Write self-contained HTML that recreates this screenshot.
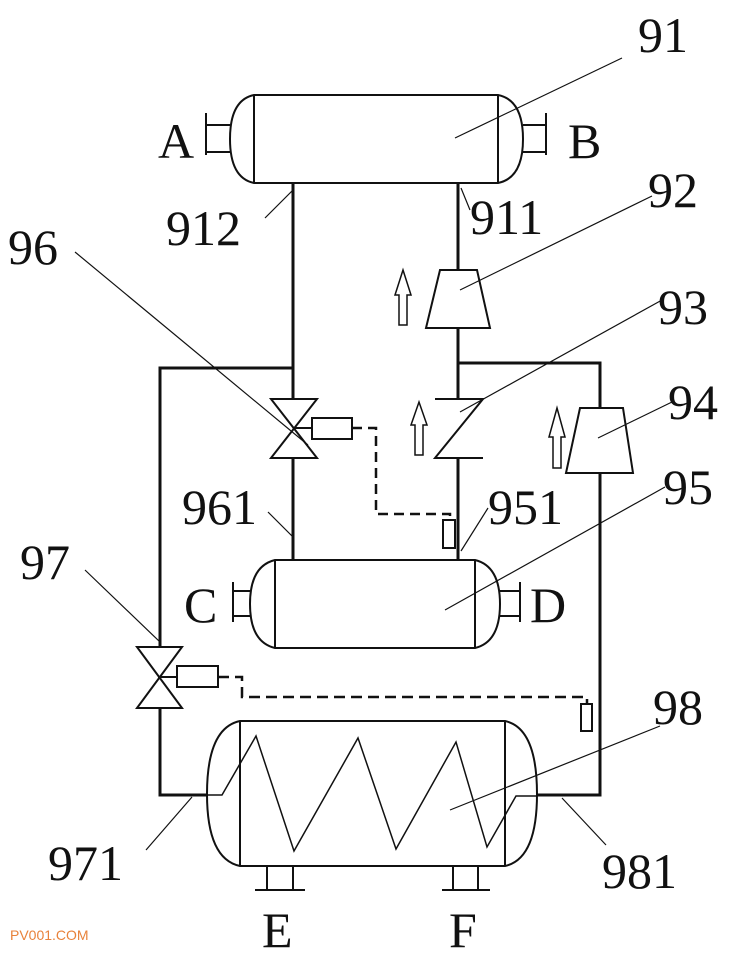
<!DOCTYPE html>
<html><head><meta charset="utf-8"><style>html,body{margin:0;padding:0;background:#fff}svg{display:block}</style></head>
<body>
<svg width="750" height="960" viewBox="0 0 750 960" xmlns="http://www.w3.org/2000/svg">
<g fill="none" stroke="#111">
<path d="M254,95 L498,95 Q523,100 523,139 Q523,178 498,183 L254,183 Q230,178 230,139 Q230,100 254,95 Z" stroke-width="2"/>
<line x1="254" y1="95" x2="254" y2="183" stroke-width="2"/>
<line x1="498" y1="95" x2="498" y2="183" stroke-width="2"/>
<path d="M230,125 H206 M206,113 V155 M206,152 H230" stroke-width="2"/>
<path d="M523,125 H546 M546,113 V155 M546,152 H523" stroke-width="2"/>
<g stroke-width="3">
<path d="M293,183 V399 M293,458 V560"/>
<path d="M458,183 V270 M458,328 V399 M458,458 V560"/>
<path d="M293,368 H160 V647 M160,708 V795 H207"/>
<path d="M458,363 H600 V408 M600,473 V795 H537"/>
</g>
<path d="M440,270 H477 L490,328 H426 Z" stroke-width="2"/>
<path d="M580,408 H623 L633,473 H566 Z" stroke-width="2"/>
<path d="M435,399 H483 L435,458 H483" stroke-width="2"/>
<path d="M271,399 H317 L271,458 H317 Z" stroke-width="2"/>
<line x1="293" y1="428" x2="312" y2="428" stroke-width="2"/>
<rect x="312" y="418" width="40" height="21" stroke-width="2"/>
<path d="M352,428 H376 V514 H450 V520" stroke-width="2.5" stroke-dasharray="10,6"/>
<rect x="443" y="520" width="12" height="28" stroke-width="2"/>
<path d="M137,647 H182 L137,708 H182 Z" stroke-width="2"/>
<line x1="158" y1="677" x2="177" y2="677" stroke-width="2"/>
<rect x="177" y="666" width="41" height="21" stroke-width="2"/>
<path d="M218,677 H242 V697 H587 V704" stroke-width="2.5" stroke-dasharray="11,6"/>
<rect x="581" y="704" width="11" height="27" stroke-width="2"/>
<path d="M399,325 V295 H395 L403,270 L411,295 H407 V325 Z" stroke-width="1.5"/>
<path d="M415,455 V425 H411 L419,402 L427,425 H423 V455 Z" stroke-width="1.5"/>
<path d="M553,468 V437 H549 L557,408 L565,437 H561 V468 Z" stroke-width="1.5"/>
<path d="M275,560 L475,560 Q500,566 500,604 Q500,642 475,648 L275,648 Q250,642 250,604 Q250,566 275,560 Z" stroke-width="2"/>
<line x1="275" y1="560" x2="275" y2="648" stroke-width="2"/>
<line x1="475" y1="560" x2="475" y2="648" stroke-width="2"/>
<path d="M250,591 H233 M233,582 V622 M233,616 H250" stroke-width="2"/>
<path d="M500,591 H520 M520,582 V622 M520,616 H500" stroke-width="2"/>
<path d="M240,721 L505,721 Q537,728 537,794 Q537,859 505,866 L240,866 Q207,859 207,794 Q207,728 240,721 Z" stroke-width="2"/>
<line x1="240" y1="721" x2="240" y2="866" stroke-width="2"/>
<line x1="505" y1="721" x2="505" y2="866" stroke-width="2"/>
<polyline points="207,795 222,795 256,736 294,851 358,738 396,849 456,742 487,847 516,796 537,796" stroke-width="1.5"/>
<path d="M267,866 V890 M293,866 V890 M255,890 H305" stroke-width="2"/>
<path d="M453,866 V890 M478,866 V890 M442,890 H490" stroke-width="2"/>
<g stroke-width="1.2">
<line x1="622" y1="58" x2="455" y2="138"/>
<line x1="265" y1="218" x2="293" y2="190"/>
<line x1="470" y1="210" x2="461" y2="188"/>
<line x1="652" y1="196" x2="460" y2="290"/>
<line x1="75" y1="252" x2="308" y2="445"/>
<line x1="662" y1="300" x2="460" y2="412"/>
<line x1="672" y1="402" x2="598" y2="438"/>
<line x1="665" y1="487" x2="445" y2="610"/>
<line x1="268" y1="512" x2="292" y2="536"/>
<line x1="488" y1="508" x2="461" y2="551"/>
<line x1="85" y1="570" x2="160" y2="642"/>
<line x1="660" y1="726" x2="450" y2="810"/>
<line x1="146" y1="850" x2="192" y2="797"/>
<line x1="606" y1="845" x2="562" y2="798"/>
</g>
</g>
<g font-family="Liberation Serif, serif" font-size="50" fill="#111">
<text x="638" y="52">91</text>
<text x="158" y="158">A</text>
<text x="568" y="158">B</text>
<text x="166" y="245">912</text>
<text x="470" y="234">911</text>
<text x="648" y="207">92</text>
<text x="8" y="264">96</text>
<text x="658" y="324">93</text>
<text x="668" y="419">94</text>
<text x="663" y="504">95</text>
<text x="182" y="524">961</text>
<text x="488" y="524">951</text>
<text x="184" y="622">C</text>
<text x="530" y="622">D</text>
<text x="20" y="579">97</text>
<text x="653" y="724">98</text>
<text x="48" y="880">971</text>
<text x="602" y="888">981</text>
<text x="262" y="947">E</text>
<text x="449" y="947">F</text>
</g>
<text x="10" y="940" font-family="Liberation Sans, sans-serif" font-size="14" fill="#e8823a">PV001.COM</text>
</svg>
</body></html>
